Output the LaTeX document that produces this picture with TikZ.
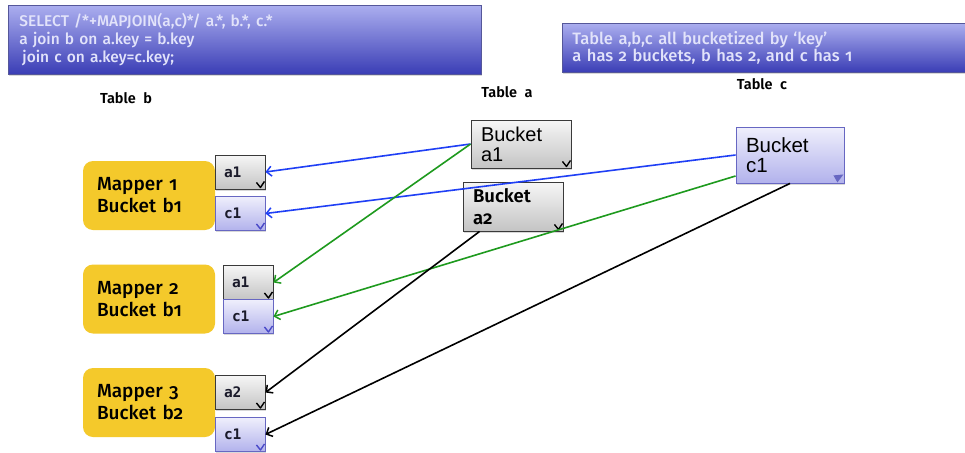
\documentclass[tikz,border=0pt]{standalone}
\usepackage{fontspec}
\IfFontExistsTF{Fira Sans Medium}
  {\setmainfont{Fira Sans Medium}[Numbers=OldStyle,BoldFont={Fira Sans SemiBold}]}
  {\setmainfont{Fira Sans}[Numbers=OldStyle]}
\newfontfamily\arialfont{Liberation Sans}
\newfontfamily\slotfont{DejaVu Sans Mono}
\usetikzlibrary{arrows.meta,calc,shadows}

\definecolor{bannertop}{HTML}{ABAEEF}
\definecolor{bannerbot}{HTML}{3A3DB5}
\definecolor{bannerline}{HTML}{55579A}
\definecolor{bannertext}{HTML}{E2E3FA}
\definecolor{graytop}{HTML}{F6F6F6}
\definecolor{graybot}{HTML}{C4C4C4}
\definecolor{grayline}{HTML}{3A3A3A}
\definecolor{lavtop}{HTML}{EFEFFC}
\definecolor{lavbot}{HTML}{B2B2EC}
\definecolor{lavline}{HTML}{6767C2}
\definecolor{lavmark}{HTML}{4A4AC8}
\definecolor{slottext}{HTML}{1A1A2A}
\definecolor{mapperfill}{HTML}{F4C92B}
\definecolor{linkblue}{HTML}{1F3FF5}
\definecolor{linkgreen}{HTML}{1E9A1E}

% folded page corner drawn inside the bottom right of a box
\newcommand\cornermark[2]{%
  \draw[#2,line width=1.4pt,line join=round]
    ($(#1.south east)+(-9,-7)$) -- ($(#1.south east)+(-5,-2)$) -- ($(#1.south east)+(-1,-8)$);}
\newcommand\cornerfold[1]{%
  \fill[lavline]
    ($(#1.south east)+(-11,-8)$) -- ($(#1.south east)+(-1,-9)$) -- ($(#1.south east)+(-7,-1)$) -- cycle;}

\begin{document}
\begin{tikzpicture}[x=1pt,y=-1pt,
  softshadow/.style={drop shadow={shadow xshift=1pt,shadow yshift=-1.5pt,opacity=0.3}},
  banner/.style={draw=bannerline,line width=0.8pt,top color=bannertop,bottom color=bannerbot,
    softshadow,anchor=north west,inner ysep=0pt,align=left,text=bannertext},
  mapper/.style={fill=mapperfill,rounded corners=10pt,minimum width=132pt,minimum height=69pt,
    inner xsep=14pt,text width=104pt,align=left,font=\fontsize{19}{22}\selectfont},
  graybox/.style={draw=grayline,line width=0.9pt,top color=graytop,bottom color=graybot,softshadow},
  lavbox/.style={draw=lavline,line width=0.9pt,top color=lavtop,bottom color=lavbot,softshadow},
  slot/.style={minimum width=50pt,minimum height=34pt,inner xsep=9pt,text width=32pt,align=left,
    text=slottext,font=\slotfont\bfseries\fontsize{14.5}{17}\selectfont},
  bucket/.style={inner xsep=10pt,align=left},
  tablelabel/.style={font=\bfseries\fontsize{14.5}{16}\selectfont},
  link/.style={line width=1.6pt,-{Straight Barb[length=5pt,width=10pt,line width=1.5pt]}},
]
\useasboundingbox[fill=white] (0,0) rectangle (965,452);

% query and description banners
\node[banner,minimum width=473pt,minimum height=69pt,inner xsep=11pt,text width=451pt,
  font=\fontsize{15.5}{18}\selectfont] (query) at (8,5)
  {SELECT /*+MAPJOIN(a,c)*/ a.*, b.*, c.*\\
   a join b on a.key = b.key\\
   \hspace*{3pt}join c on a.key=c.key;};
\node[banner,minimum width=420pt,minimum height=49pt,inner xsep=10pt,text width=400pt,
  font=\fontsize{16.5}{17}\selectfont] (info) at (562,23)
  {Table a,b,c all bucketized by ‘key’\\
   a has 2 buckets, b has 2, and c has 1};

% table headings
\node[tablelabel] (tb) at (126,98) {Table\hspace{4pt} b};
\node[tablelabel] (ta) at (507,92) {Table\hspace{4pt} a};
\node[tablelabel] (tc) at (762,84) {Table\hspace{4pt} c};

% source buckets
\node[graybox,bucket,minimum width=100pt,minimum height=48pt,text width=80pt,
  font=\arialfont\fontsize{20}{20}\selectfont] (ba1) at (521,144) {Bucket\\a1};
\node[graybox,bucket,minimum width=100pt,minimum height=49pt,text width=80pt,
  font=\bfseries\fontsize{18.5}{22}\selectfont] (ba2) at (513,206.5) {Bucket\\a2};
\node[lavbox,bucket,minimum width=108pt,minimum height=56pt,text width=88pt,
  font=\arialfont\fontsize{20.5}{19.5}\selectfont] (bc1) at (790,155) {Bucket\\c1};
\cornermark{ba1}{black}
\cornermark{ba2}{black}
\cornerfold{bc1}

% mappers
\node[mapper] (m1) at (149,195.5) {Mapper 1\\Bucket b1};
\node[mapper] (m2) at (149,299) {Mapper 2\\Bucket b1};
\node[mapper] (m3) at (149,402.5) {Mapper 3\\Bucket b2};

% buckets held in memory by each mapper
\node[graybox,slot] (m1a) at (240,172) {a1};
\node[lavbox,slot] (m1c) at (240,213.5) {c1};
\node[graybox,slot] (m2a) at (248,282.5) {a1};
\node[lavbox,slot] (m2c) at (248,316.5) {c1};
\node[graybox,slot] (m3a) at (240,392.5) {a2};
\node[lavbox,slot] (m3c) at (240,434.5) {c1};
\cornermark{m1a}{black}
\cornermark{m1c}{lavmark}
\cornermark{m2a}{black}
\cornermark{m2c}{lavmark}
\cornermark{m3a}{black}
\cornermark{m3c}{lavmark}

% bucket distribution
\draw[link,linkblue] (ba1.west) -- (m1a.east);
\draw[link,linkblue] (bc1.west) -- (m1c.east);
\draw[link,linkgreen] (ba1.west) -- (m2a.east);
\draw[link,linkgreen] ([yshift=-21pt]bc1.west) -- (m2c.east);
\draw[link,black] ([xshift=17pt]ba2.south west) -- (m3a.east);
\draw[link,black] (bc1.south) -- (m3c.east);
\end{tikzpicture}
\end{document}
